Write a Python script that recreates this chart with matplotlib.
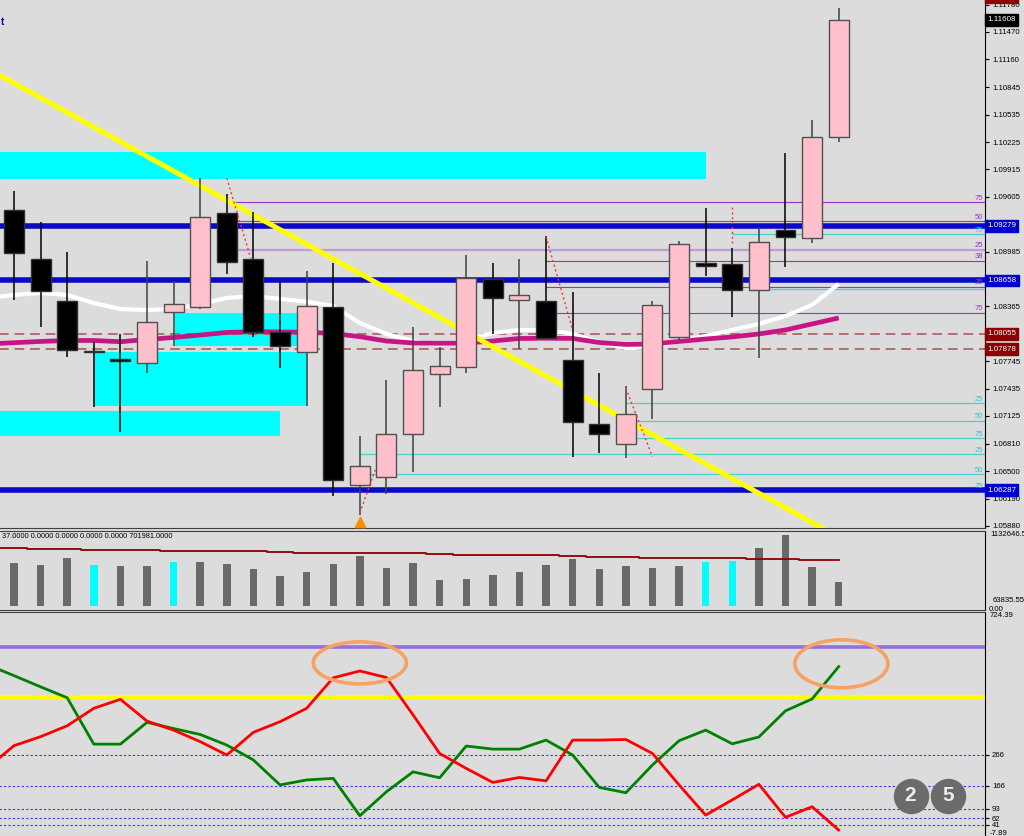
import matplotlib
matplotlib.use('Agg')
import matplotlib.pyplot as plt
from matplotlib.patches import Rectangle, Ellipse
import numpy as np

plt.rcParams['font.family'] = ['Liberation Sans', 'DejaVu Sans']

BG = '#dcdcdc'
W, H = 1024, 836

# daily candles (bar index 0..31)
opens  = [1.09456, 1.08905, 1.08429, 1.07860, 1.07764, 1.07721, 1.08298, 1.08355,
          1.09418, 1.08901, 1.08072, 1.07845, 1.08355, 1.06344, 1.06431, 1.06918,
          1.07596, 1.07679, 1.08672, 1.08437, 1.08426, 1.07755, 1.07031, 1.06804,
          1.07434, 1.08015, 1.08859, 1.08845, 1.08550, 1.09229, 1.09139, 1.10282]
highs  = [1.09674, 1.09323, 1.08977, 1.07959, 1.08053, 1.08882, 1.08656, 1.09815,
          1.09637, 1.09430, 1.08638, 1.08766, 1.08853, 1.06898, 1.07532, 1.08132,
          1.07902, 1.08950, 1.08853, 1.08898, 1.09162, 1.08531, 1.07615, 1.07464,
          1.08426, 1.09108, 1.09475, 1.09029, 1.09267, 1.10101, 1.10474, 1.11742]
lows   = [1.08437, 1.08128, 1.07796, 1.07223, 1.06940, 1.07608, 1.07920, 1.08335,
          1.08728, 1.08015, 1.07664, 1.07241, 1.06219, 1.06004, 1.06239, 1.06491,
          1.07230, 1.07615, 1.08049, 1.07879, 1.07992, 1.06664, 1.06702, 1.06653,
          1.07091, 1.07985, 1.08712, 1.08248, 1.07781, 1.08814, 1.09086, 1.10225]
closes = [1.08966, 1.08543, 1.07872, 1.07845, 1.07753, 1.08192, 1.08392, 1.09373,
          1.08871, 1.08079, 1.07920, 1.08366, 1.06400, 1.06559, 1.06924, 1.07642,
          1.07687, 1.08683, 1.08456, 1.08491, 1.08004, 1.07057, 1.06918, 1.07144,
          1.08384, 1.09068, 1.08822, 1.08550, 1.09097, 1.09154, 1.10282, 1.11608]

# moving averages (bar index -1..31)
ma_white = [1.08460, 1.08494, 1.08517, 1.08494, 1.08403, 1.08335, 1.08324, 1.08335,
            1.08392, 1.08460, 1.08483, 1.08449, 1.08418, 1.08369, 1.08177, 1.08053,
            1.07973, 1.07928, 1.07985, 1.08064, 1.08098, 1.08098, 1.08053, 1.07962,
            1.07894, 1.07905, 1.07973, 1.08030, 1.08098, 1.08166, 1.08256, 1.08381,
            1.08618]
ma_magenta = [1.07939, 1.07954, 1.07968, 1.07979, 1.07979, 1.07965, 1.07990, 1.08013,
              1.08041, 1.08070, 1.08079, 1.08075, 1.08073, 1.08058, 1.08022, 1.07973,
              1.07951, 1.07947, 1.07951, 1.07973, 1.08002, 1.08004, 1.08002, 1.07956,
              1.07934, 1.07939, 1.07968, 1.07996, 1.08019, 1.08053, 1.08098, 1.08166,
              1.08234]

# volumes (bar index 0..31)
volumes = [681000, 659000, 761000, 654000, 633000, 643000, 697000, 707000,
           670000, 590000, 483000, 538000, 665000, 802000, 601000, 681000,
           420000, 431000, 495000, 538000, 654000, 750000, 590000, 643000,
           601000, 643000, 697000, 723000, 920000, 1132646, 627000, 378000]
vol_cyan = [3, 6, 26, 27]
vol_ma = [930000, 917240, 909264, 901288, 893312, 885336, 885336, 882146, 877360,
          872574, 872574, 866194, 845456, 845456, 845456, 845456, 845456, 829504,
          818338, 818338, 808766, 808766, 792814, 776862, 776862, 765696, 765696,
          765696, 765696, 749744, 749744, 738578, 738578]

# oscillator lines (bar index -1..31)
osc_green = [555, 520, 484, 449, 300, 300, 370, 350, 331, 297, 249, 169, 185, 190, 70,
             147, 211, 192, 294, 284, 284, 313, 265, 161, 144, 233, 311, 345, 301, 323,
             407, 445, 549]
osc_red = [224, 295, 324, 359, 415, 444, 374, 345, 308, 265, 338, 372, 415, 513, 535,
           514, 394, 270, 222, 177, 193, 182, 313, 313, 315, 270, 169, 72, 121, 171,
           65, 99, 24]
osc_levels = [266, 166, 93, 62, 41]
osc_purple = 613
osc_yellow = 452

# horizontal levels
blue_levels = [1.09279, 1.08658, 1.06287]
brown_levels = [1.08055, 1.07878]
fib_purple = [1.09543, 1.09326, 1.09003, 1.08879, 1.08584, 1.08290]
fib_purple_start = [8, 8, 8, 20, 20, 20]
fib_cyan = [1.09181, 1.08562, 1.07268, 1.07068, 1.06872, 1.06691, 1.06465, 1.06276]
fib_cyan_start = [27, 28, 23, 23, 23, 13, 13, 13]
fib_labels = [(1.09543, '75', '#9932cc'), (1.09326, '50', '#9932cc'), (1.09181, '75', '#30c8c8'),
              (1.09003, '25', '#9932cc'), (1.08879, '38', '#9932cc'), (1.08584, '25', '#9932cc'),
              (1.08290, '75', '#9932cc'), (1.07268, '25', '#30c8c8'), (1.07068, '50', '#30c8c8'),
              (1.06872, '75', '#30c8c8'), (1.06691, '25', '#30c8c8'), (1.06465, '50', '#30c8c8'),
              (1.06276, '75', '#30c8c8')]

# cyan zones: (x0, x1, low, high)
zones = [(-1, 26, 1.09807, 1.10112), (6.05, 11, 1.07920, 1.08290),
         (3, 11, 1.07240, 1.07852), (-1, 10, 1.06902, 1.07185)]

trend_x = [-0.53, 31.5]
trend_y = [1.10979, 1.05670]

zigzag = [((8.0, 8.9), (1.09815, 1.08909)), ((13.0, 13.6), (1.06027, 1.06533)),
          ((20.0, 21.0), (1.09154, 1.08098)), ((23.0, 24.0), (1.07438, 1.06664)),
          ((27.0, 27.0), (1.09493, 1.09060))]

price_ticks = [1.11780, 1.11470, 1.11160, 1.10845, 1.10535, 1.10225, 1.09915, 1.09605,
               1.08985, 1.08365, 1.07745, 1.07435, 1.07125, 1.06810, 1.06500, 1.06190,
               1.05880]

n = len(opens)
idx = np.arange(n)
idx_ext = np.arange(-1, n)

fig = plt.figure(figsize=(10.24, 8.36), dpi=100, facecolor=BG)


def rect(top, bottom, right=985):
    return [0, 1 - bottom / H, right / W, (bottom - top) / H]


ax = fig.add_axes(rect(0, 528))
axv = fig.add_axes(rect(531, 610), sharex=ax)
axi = fig.add_axes(rect(612, 840), sharex=ax)

for a in (ax, axv, axi):
    a.set_facecolor(BG)
    a.spines['left'].set_visible(False)
    a.spines['right'].set_color('black')
    a.spines['top'].set_color('#404040')
    a.spines['bottom'].set_color('#404040')
    a.tick_params(axis='x', bottom=False, labelbottom=False)
    a.yaxis.tick_right()
    a.tick_params(axis='y', length=3, width=0.8, pad=2, labelsize=5.6, colors='black')
ax.spines['top'].set_visible(False)
axi.spines['bottom'].set_visible(False)

ax.set_xlim(-0.526, 36.5)
ax.set_ylim(1.05857, 1.11832)

# --- main panel ---
for x0, x1, lo, hi in zones:
    ax.add_patch(Rectangle((x0, lo), x1 - x0, hi - lo, color='#00ffff', lw=0, zorder=1))

ax.hlines(brown_levels, -1, 37, colors='#b07070', lw=1.4, linestyles=(0, (5, 3)), zorder=2)
for lv, st in zip(fib_purple, fib_purple_start):
    if lv == 1.09003:
        ax.hlines(lv, st, 37, colors='#c39bd3', lw=1.6, zorder=2)
    else:
        ax.hlines(lv, st, 37, colors='#9932cc', lw=0.8, zorder=2)
for lv, st in zip(fib_cyan, fib_cyan_start):
    ax.hlines(lv, st, 37, colors='#48d1cc', lw=0.9, zorder=2)
ax.hlines(blue_levels, -1, 37, colors='#0a0ac8', lw=4, zorder=3)

ax.plot(idx_ext, ma_white, color='white', lw=3, zorder=4, solid_capstyle='butt')
ax.plot(idx_ext, ma_magenta, color='#c71585', lw=3.4, zorder=4, solid_capstyle='butt')
ax.plot(trend_x, trend_y, color='#ffff00', lw=3.6, zorder=4.5)

o = np.array(opens); c = np.array(closes)
bull = c >= o
body_col = ['#ffc0cb' if b else 'black' for b in bull]
edge_col = ['#505050' if b else '#303030' for b in bull]
wick_col = ['#404040' if b else 'black' for b in bull]
ax.vlines(idx, lows, highs, colors=wick_col, lw=1.1, zorder=4.9)
hgt = c - o
hgt = np.where(np.abs(hgt) < 0.00012, np.sign(hgt + 1e-9) * 0.00012, hgt)
ax.bar(idx, hgt, bottom=o, width=0.75, color=body_col, edgecolor=edge_col, lw=1, zorder=5)

for xs, ys in zigzag:
    ax.plot(xs, ys, color='#ff3030', lw=1, ls=(0, (1.5, 2)), zorder=6)

ax.scatter([13], [1.05925], marker='^', s=55, color='#ff8c00', zorder=7, clip_on=False)

ax.set_yticks(price_ticks)
ax.set_yticklabels([f'{v:.5f}' for v in price_ticks])

for lv, txt, col in fib_labels:
    ax.text(36.43, lv + 0.00008, txt, color=col, fontsize=5.5, ha='right', va='bottom', zorder=8)


def price_box(a, y, txt, fc):
    a.text(1.002, y, txt, transform=a.get_yaxis_transform(), ha='left', va='center',
           fontsize=5.8, color='white', clip_on=False, zorder=10,
           bbox=dict(boxstyle='square,pad=0.3', fc=fc, ec=fc))


price_box(ax, 1.11860, '1.11790', '#8b0000')
price_box(ax, 1.11608, '1.11608', 'black')
for lv in blue_levels:
    price_box(ax, lv, f'{lv:.5f}', '#0000cd')
for lv in brown_levels:
    price_box(ax, lv, f'{lv:.5f}', '#8b0000')

fig.text(0.5 / W, 1 - 22 / H, 't', color='#0000a0', fontsize=7, fontweight='bold',
         ha='left', va='center')

# --- volume panel ---
vcol = ['#00ffff' if i in vol_cyan else '#696969' for i in idx]
axv.bar(idx, volumes, width=0.28, color=vcol, zorder=2)
axv.plot(idx_ext, vol_ma, color='#8b0000', lw=1.3, drawstyle='steps-mid', zorder=3)
axv.set_ylim(-63835.55, 1196400)
axv.set_yticks([])
axv.text(0.002, 0.93, '37.0000 0.0000 0.0000 0.0000 0.0000 701981.0000', transform=axv.transAxes,
         fontsize=5.3, color='black', ha='left', va='center')
axv.text(1.005, 1132646, '1132646.5', transform=axv.get_yaxis_transform(), fontsize=5.6,
         ha='left', va='center', clip_on=False)
axv.text(1.008, 90000, '63835.55', transform=axv.get_yaxis_transform(), fontsize=5.6,
         ha='left', va='center', clip_on=False)
axv.text(1.004, -60000, '0.00', transform=axv.get_yaxis_transform(), fontsize=5.6,
         ha='left', va='center', clip_on=False)

# --- oscillator panel ---
axi.set_ylim(-7.89, 724.39)
axi.hlines(osc_levels, -1, 37, colors='#3333ff', lw=0.8, linestyles=(0, (2, 2)), zorder=1)
axi.axhline(osc_purple, color='#9370db', lw=2.6, zorder=1)
axi.axhline(osc_yellow, color='#ffff00', lw=3.0, zorder=1)
axi.plot(idx_ext, osc_green, color='#008000', lw=2.0, zorder=3)
axi.plot(idx_ext, osc_red, color='#ff0000', lw=2.0, zorder=3)
axi.add_patch(Ellipse((13.0, 561), 3.5, 135, fill=False, ec='#f5a262', lw=2.6, zorder=4))
axi.add_patch(Ellipse((31.1, 558), 3.5, 154, fill=False, ec='#f5a262', lw=2.6, zorder=4))
axi.set_yticks(osc_levels)
axi.set_yticklabels([str(v) for v in osc_levels])
axi.text(1.005, 724.39, '724.39', transform=axi.get_yaxis_transform(), fontsize=5.6,
         ha='left', va='top', clip_on=False)
axi.text(1.005, 3, '-7.89', transform=axi.get_yaxis_transform(), fontsize=5.6,
         ha='left', va='bottom', clip_on=False)

for xc, d in [(33.7, '2'), (35.1, '5')]:
    axi.scatter([xc], [135], s=600, color='#6b6b6b', zorder=5)
    axi.text(xc, 135, d, color='#ececec', fontsize=15, fontweight='bold',
             ha='center', va='center', zorder=6)

fig.savefig('out.png', dpi=100, facecolor=BG)
